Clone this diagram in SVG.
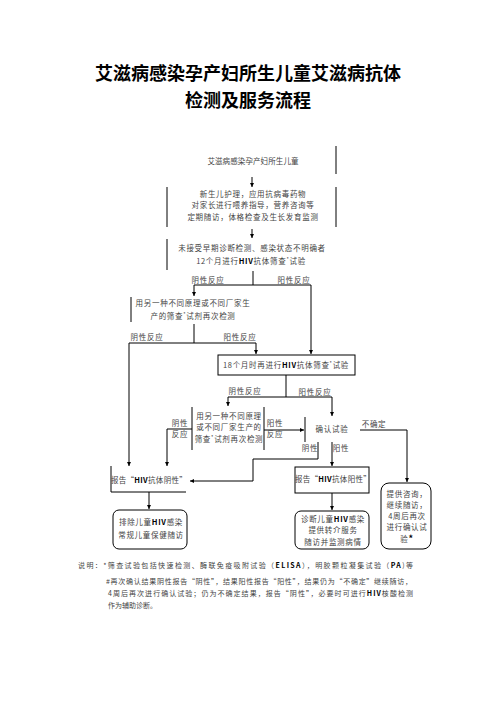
<svg xmlns="http://www.w3.org/2000/svg" width="496" height="702" viewBox="0 0 496 702">
<defs>
<marker id="ah" viewBox="0 0 6 6" refX="6" refY="3" markerWidth="4" markerHeight="4" markerUnits="userSpaceOnUse" orient="auto"><path d="M0,0 L6,3 L0,6 z" fill="#000"/></marker>
<style>
.title{font-family:"Noto Sans CJK SC","Liberation Sans",sans-serif;font-size:18px;font-weight:bold;fill:#000;text-anchor:middle}
.t{font-family:"Noto Sans CJK SC","Liberation Sans",sans-serif;font-size:7.5px;fill:#444;letter-spacing:0.7px;text-anchor:middle}
.f{font-family:"Noto Sans CJK SC","Liberation Sans",sans-serif;font-size:7px;fill:#444}
.b{font-weight:bold;fill:#000}
.ln{stroke:#000;stroke-width:1;fill:none}
.ar{stroke:#000;stroke-width:1;fill:none;marker-end:url(#ah)}
.rb{stroke:#000;stroke-width:1;fill:#fff}
</style>
</defs>
<rect width="496" height="702" fill="#fff"/>
<g id="title">
<text class="title" x="248" y="80">艾滋病感染孕产妇所生儿童艾滋病抗体</text>
<text class="title" x="248" y="107">检测及服务流程</text>
</g>
<g id="n1">
<line class="ln" x1="336" y1="146" x2="336" y2="174"/>
<text class="t" x="253" y="164" style="letter-spacing:0.1px">艾滋病感染孕产妇所生儿童</text>
</g>
<g id="n2">
<line class="ln" x1="167" y1="187" x2="167" y2="227"/>
<line class="ln" x1="336" y1="187" x2="336" y2="227"/>
<text class="t" x="253" y="197">新生儿护理，应用抗病毒药物</text>
<text class="t" x="253" y="208">对家长进行喂养指导，营养咨询等</text>
<text class="t" x="253" y="220">定期随访，体格检查及生长发育监测</text>
</g>
<g id="n3">
<line class="ln" x1="167" y1="239" x2="167" y2="270"/>
<text class="t" x="252" y="251">未接受早期诊断检测、感染状态不明确者</text>
<text class="t" x="251" y="264">12个月进行<tspan class="b">HIV</tspan>抗体筛查<tspan dy="-3" font-size="5">*</tspan><tspan dy="3">试验</tspan></text>
</g>
<g id="n4">
<line class="ln" x1="131" y1="297" x2="131" y2="322"/>
<text class="t" x="193" y="306">用另一种不同原理或不同厂家生</text>
<text class="t" x="193" y="319">产的筛查<tspan dy="-3" font-size="5">*</tspan><tspan dy="3">试剂再次检测</tspan></text>
</g>
<g id="n5">
<rect class="ln" x="218" y="355" width="137" height="20"/>
<text class="t" x="286" y="368">18个月时再进行<tspan class="b">HIV</tspan>抗体筛查<tspan dy="-3" font-size="5">*</tspan><tspan dy="3">试验</tspan></text>
</g>
<g id="n6">
<line class="ln" x1="192" y1="407" x2="192" y2="450"/>
<line class="ln" x1="264" y1="407" x2="264" y2="450"/>
<text class="t" x="229" y="419">用另一种不同原理</text>
<text class="t" x="229" y="430">或不同厂家生产的</text>
<text class="t" x="229" y="442">筛查<tspan dy="-3" font-size="5">*</tspan><tspan dy="3">试剂再次检测</tspan></text>
</g>
<g id="n7">
<line class="ln" x1="305" y1="417" x2="305" y2="442"/>
<text class="t" x="332" y="432">确认试验</text>
</g>
<g id="n8">
<path class="ln" d="M111,466 V492 H186"/>
<text class="t" x="149" y="483" style="letter-spacing:0.3px">报告“<tspan class="b">HIV</tspan>抗体阴性”</text>
</g>
<g id="n9">
<rect class="rb" x="113" y="510" width="74" height="39" rx="6"/>
<text class="t" x="151" y="525">排除儿童<tspan class="b">HIV</tspan>感染</text>
<text class="t" x="151" y="538">常规儿童保健随访</text>
</g>
<g id="n10">
<rect class="ln" x="295" y="467" width="74" height="26"/>
<text class="t" x="333" y="482" style="letter-spacing:0.3px">报告“<tspan class="b">HIV</tspan>抗体阳性”</text>
</g>
<g id="n11">
<rect class="rb" x="295" y="511" width="74" height="38" rx="6"/>
<text class="t" x="333" y="522">诊断儿童<tspan class="b">HIV</tspan>感染</text>
<text class="t" x="333" y="533">提供转介服务</text>
<text class="t" x="333" y="545">随访并监测病情</text>
</g>
<g id="n12">
<rect class="rb" x="381" y="483" width="50" height="66" rx="8"/>
<text class="t" x="407" y="497">提供咨询，</text>
<text class="t" x="407" y="508">继续随访，</text>
<text class="t" x="407" y="519">4周后再次</text>
<text class="t" x="407" y="530">进行确认试</text>
<text class="t" x="407" y="542">验<tspan class="b" font-size="9">*</tspan></text>
</g>
<g id="connectors">
<line class="ar" x1="252" y1="177" x2="252" y2="187"/>
<line class="ar" x1="252" y1="229" x2="252" y2="238"/>
<path class="ln" d="M253,271 V285 M194,285 H311"/>
<line class="ar" x1="194" y1="285" x2="194" y2="296"/>
<line class="ar" x1="311" y1="285" x2="311" y2="354"/>
<path class="ln" d="M194,324 V343 M129,343 H256"/>
<line class="ar" x1="256" y1="343" x2="256" y2="354"/>
<line class="ar" x1="129" y1="343" x2="129" y2="466"/>
<path class="ln" d="M286,375 V397 M228,397 H332"/>
<line class="ar" x1="228" y1="397" x2="228" y2="406"/>
<line class="ar" x1="332" y1="397" x2="332" y2="416"/>
<polyline class="ar" points="192,429 167,429 167,466"/>
<line class="ar" x1="264" y1="430" x2="304" y2="430"/>
<polyline class="ar" points="360,430 407,430 407,482"/>
<polyline class="ar" points="318,442 318,459 253,459 253,481 190,481"/>
<line class="ar" x1="332" y1="442" x2="332" y2="466"/>
<line class="ar" x1="149" y1="492" x2="149" y2="509"/>
<line class="ar" x1="332" y1="493" x2="332" y2="510"/>
</g>
<g id="labels">
<text class="t" x="208" y="283">阴性反应</text>
<text class="t" x="294" y="283">阳性反应</text>
<text class="t" x="147" y="340">阴性反应</text>
<text class="t" x="240" y="340">阳性反应</text>
<text class="t" x="245" y="394">阴性反应</text>
<text class="t" x="315" y="395">阳性反应</text>
<text class="t" x="180" y="426">阴性</text>
<text class="t" x="180" y="437">反应</text>
<text class="t" x="275" y="426">阳性</text>
<text class="t" x="275" y="437">反应</text>
<text class="t" x="374" y="427">不确定</text>
<text class="t" x="310" y="451">阴性</text>
<text class="t" x="341" y="451">阳性</text>
</g>
<g id="notes">
<text class="f" x="78" y="568" textLength="335" lengthAdjust="spacing">说明：*筛查试验包括快速检测、酶联免疫吸附试验（<tspan class="b">ELISA</tspan>），明胶颗粒凝集试验（<tspan class="b">PA</tspan>)等</text>
<text class="f" x="106" y="584" textLength="306" lengthAdjust="spacing">#再次确认结果阴性报告“阴性”，结果阳性报告“阳性”，结果仍为“不确定”继续随访，</text>
<text class="f" x="108" y="596" textLength="305" lengthAdjust="spacing">4周后再次进行确认试验；仍为不确定结果，报告“阴性”，必要时可进行<tspan class="b">HIV</tspan>核酸检测</text>
<text class="f" x="108" y="608">作为辅助诊断。</text>
</g>
</svg>
